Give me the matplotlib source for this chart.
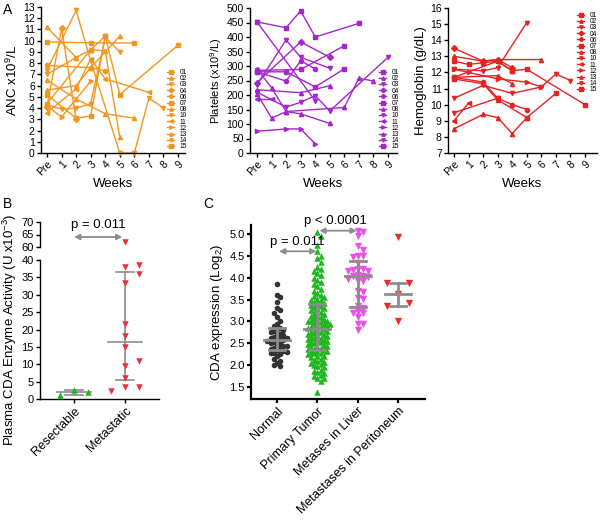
import numpy as np
import matplotlib
matplotlib.use("Agg")
import matplotlib.pyplot as plt

plt.rcParams['font.family'] = ['Liberation Sans', 'DejaVu Sans']
plt.rcParams['mathtext.default'] = 'regular'

# ---------------- data ----------------
PATIENTS = ['01', '02', '03', '04', '06', '07', '08', '10', '11', '12', '13', '14', '15']
WEEK_LABELS = ['Pre', '1', '2', '3', '4', '5', '6', '7', '8', '9']

# (weeks, values) per patient, week 0 = Pre
anc = {
    '01': ([0, 3, 6], [9.9, 9.8, 9.8]),
    '02': ([0, 2, 3, 4, 5], [11.2, 8.5, 9.2, 9.1, 1.4]),
    '03': ([0, 2, 3, 5, 6, 7, 8], [7.4, 12.7, 8.2, 0.0, 0.0, 4.9, 4.0]),
    '04': ([0, 1, 2], [4.1, 11.1, 3.0]),
    '06': ([0, 3, 4], [7.8, 7.6, 7.3]),
    '07': ([0, 2, 3, 4, 5, 9], [5.2, 3.1, 3.3, 10.4, 5.2, 9.6]),
    '08': ([0, 2, 4, 6], [6.5, 4.8, 3.5, 3.1]),
    '10': ([0, 1, 2, 3, 4, 5], [4.3, 3.9, 4.0, 4.4, 10.3, 9.0]),
    '11': ([0, 2, 3, 4, 7], [3.6, 5.7, 8.4, 6.6, 5.4]),
    '12': ([0, 1, 3], [4.2, 3.2, 6.4]),
    '13': ([0, 2, 3, 5], [5.6, 6.0, 7.6, 10.4]),
    '14': ([0, 2], [7.0, 8.5]),
    '15': ([0, 3, 4], [4.4, 9.2, 10.4]),
}

platelets = {
    '01': ([0, 2, 3, 4, 7], [452, 432, 490, 400, 447]),
    '02': ([0, 1, 2, 3, 5], [290, 225, 143, 135, 102]),
    '03': ([0, 2, 3, 5], [235, 390, 330, 292]),
    '04': ([0, 3, 5], [243, 383, 330]),
    '06': ([0, 2, 3, 4], [280, 248, 318, 290]),
    '07': ([0, 3, 6], [285, 288, 370]),
    '08': ([0, 3, 5], [218, 208, 232]),
    '10': ([0, 2, 3, 4, 5, 9], [210, 158, 175, 198, 145, 330]),
    '11': ([0, 1], [185, 185]),
    '12': ([0, 2, 3, 4], [75, 83, 83, 32]),
    '13': ([0, 1, 2, 6, 7, 8], [205, 120, 143, 157, 258, 248]),
    '14': ([0, 4], [452, 180]),
    '15': ([0, 2, 4, 6], [280, 280, 228, 290]),
}

hemoglobin = {
    '01': ([0, 1, 2, 3, 4, 5, 9], [12.7, 12.5, 12.6, 12.7, 12.1, 12.2, 10.0]),
    '02': ([0, 2, 3, 6], [13.0, 12.7, 12.8, 12.8]),
    '03': ([0, 2, 3, 5], [12.2, 12.1, 12.3, 15.1]),
    '04': ([0, 2, 3, 4], [13.5, 12.7, 12.8, 12.3]),
    '06': ([0, 2, 3, 4, 5], [11.7, 11.4, 10.4, 10.0, 9.7]),
    '07': ([0, 2, 3, 5, 7], [11.6, 11.3, 10.3, 9.2, 10.7]),
    '08': ([0, 3, 4], [11.7, 11.8, 11.3]),
    '10': ([0, 2, 4, 6, 7, 8], [10.4, 11.2, 10.7, 11.1, 11.9, 11.5]),
    '11': ([0, 1], [9.0, 10.1]),
    '12': ([0, 1, 3, 5, 6], [12.2, 12.0, 11.6, 11.4, 11.1]),
    '13': ([0, 2, 3, 4, 5], [8.5, 9.4, 9.2, 8.2, 9.2]),
    '14': ([0, 3], [9.5, 10.4]),
    '15': ([0, 3, 4], [11.7, 12.7, 12.1]),
}

# panel B
b_groups = ['Resectable', 'Metastatic']
resectable = [2.5, 2.0, 1.2]
metastatic = [62.0, 38.0, 36.0, 33.5, 21.5, 18.0, 15.0, 9.5, 6.0, 3.5, 38.6, 11.0, 3.5, 2.3]

# panel C
c_groups = ['Normal', 'Primary Tumor', 'Metases in Liver', 'Metastases in Peritoneum']
normal = [3.85, 3.6, 3.55, 3.45, 3.3, 3.25, 3.2, 3.1, 3.0, 2.95, 2.9, 2.85, 2.82, 2.8,
          2.78, 2.75, 2.72, 2.7, 2.68, 2.65, 2.63, 2.62, 2.6, 2.58, 2.57, 2.55, 2.52, 2.5,
          2.48, 2.47, 2.45, 2.43, 2.4, 2.38, 2.37, 2.35, 2.33, 2.3, 2.28, 2.27, 2.25, 2.2,
          2.15, 2.1, 2.05, 2.0, 1.98]
primary = [5.05, 4.95, 4.75, 4.6, 4.5, 4.45,
           4.35, 4.25, 4.2, 4.15, 4.1, 4.05, 4.0,
           3.95, 3.9, 3.85, 3.8, 3.75, 3.7, 3.65, 3.6, 3.58, 3.55, 3.52, 3.5,
           3.48, 3.45, 3.42, 3.4, 3.38, 3.35, 3.32, 3.3, 3.28, 3.25, 3.22, 3.2, 3.18, 3.15,
           3.12, 3.1, 3.08, 3.05, 3.03, 3.02, 3.0, 3.0,
           2.98, 2.97, 2.95, 2.93, 2.92, 2.9, 2.88, 2.87, 2.85, 2.84, 2.82, 2.8, 2.78, 2.77,
           2.75, 2.73, 2.72, 2.7, 2.68, 2.67, 2.65, 2.63, 2.62, 2.6, 2.58, 2.57, 2.55, 2.53,
           2.52, 2.5,
           2.48, 2.47, 2.45, 2.43, 2.42, 2.4, 2.38, 2.37, 2.35, 2.33, 2.32, 2.3, 2.28, 2.27,
           2.25, 2.22, 2.2, 2.18, 2.15, 2.12, 2.1, 2.08, 2.05, 2.02, 2.0,
           1.98, 1.95, 1.9, 1.88, 1.85, 1.82, 1.78, 1.75, 1.72, 1.7, 1.65, 1.4]
liver = [5.07, 5.05, 4.94, 4.73, 4.64, 4.5, 4.49, 4.48, 4.33, 4.2, 4.19, 4.18, 4.16, 4.15,
         4.05, 4.04, 4.03, 4.02, 3.97, 3.93, 3.92, 3.7, 3.68, 3.53, 3.52, 3.35, 3.3, 3.22,
         3.2, 3.19, 3.1, 2.95, 2.94, 2.8]
peritoneum = [4.92, 3.62, 3.87, 3.88, 3.43, 3.35, 3.02]

# ---------------- layout helpers ----------------
W, H = 602, 528
fig = plt.figure(figsize=(W / 100, H / 100), dpi=100)


def ax_px(l, t, r, b):
    return fig.add_axes([l / W, 1 - b / H, (r - l) / W, (b - t) / H])


def style(ax, lw=1.0, size=7.5):
    for s in ['top', 'right']:
        ax.spines[s].set_visible(False)
    for s in ['left', 'bottom']:
        ax.spines[s].set_linewidth(lw)
    ax.tick_params(direction='out', length=3, width=lw, labelsize=size, pad=1.5)


def columns(vals, ypx, step_px, dmin_px):
    """GraphPad-like column scatter: offsets in units of step, in data order."""
    placed = []
    offs = []
    order = [0, 1, -1, 2, -2, 3, -3, 4, -4, 5, -5, 6, -6, 7, -7]
    for v in vals:
        y = v * ypx
        for k in order:
            if all(not (kk == k and abs(yy - y) < dmin_px) for kk, yy in placed):
                break
        placed.append((k, y))
        offs.append(k * step_px)
    return np.array(offs)


# ---------------- panel A ----------------
markers = ['s', '^', 'v', 'D', 'o', 's', '^', 'v', '<', '>', '^', 'v', 's']
a_panels = [
    (anc, '#F4961E', (0, 13), np.arange(0, 14, 1), 'ANC x10$^9$/L', 9.5,
     (41, 7, 185, 153), (47, 178), (167, 69)),
    (platelets, '#A526CC', (0, 500), np.arange(0, 501, 50), 'Platelets (x10$^9$/L)', 8,
     (250, 8, 397, 153), (257, 388), (379, 69)),
    (hemoglobin, '#E62222', (7, 16), np.arange(7, 17, 1), 'Hemoglobin (g/dL)', 9.5,
     (448, 8, 597, 153), (454, 585), (577, 12)),
]

for data, color, ylim, yticks, ylabel, ysize, box, xref, leg in a_panels:
    ax = ax_px(*box)
    style(ax)
    handles = []
    for p, m in zip(PATIENTS, markers):
        wk, vals = data[p]
        ln, = ax.plot(wk, vals, color=color, lw=1.0, marker=m, ms=3, clip_on=False)
        handles.append(ln)
    s = (xref[1] - xref[0]) / 9
    ax.set_xlim((box[0] - xref[0]) / s, (box[2] - xref[0]) / s)
    ax.set_ylim(*ylim)
    ax.set_yticks(yticks)
    ax.set_xticks(range(10))
    ax.set_xticklabels(WEEK_LABELS, rotation=45, ha='right', rotation_mode='anchor')
    ax.set_xlabel('Weeks', fontsize=9.5, labelpad=0)
    ax.set_ylabel(ylabel, fontsize=ysize, labelpad=2)
    ax.legend(handles, PATIENTS, loc='upper left',
              bbox_to_anchor=(leg[0] / W, 1 - leg[1] / H), bbox_transform=fig.transFigure,
              frameon=False, fontsize=4.8, handlelength=1.1, labelspacing=-0.12,
              handletextpad=0.8, borderpad=0, borderaxespad=0, markerscale=0.8)

# ---------------- panel B ----------------
grey = '#8C8C8C'
b_lo = ax_px(40, 260, 159, 399)
b_hi = ax_px(40, 222, 159, 247)
for a in (b_lo, b_hi):
    style(a, lw=1.0, size=8)
    a.set_xlim(-0.67, 1.67)
b_hi.spines['bottom'].set_visible(False)
b_hi.tick_params(axis='x', bottom=False, labelbottom=False)
b_lo.set_ylim(0, 40)
b_lo.set_yticks(np.arange(0, 41, 5))
b_hi.set_ylim(60, 70)
b_hi.set_yticks([60, 65, 70])
b_lo.set_xticks([0, 1])
b_lo.set_xticklabels(b_groups, rotation=45, ha='right', rotation_mode='anchor', fontsize=9)

b_step = 0.27
for i, (vals, col, mk) in enumerate([(resectable, '#22B422', '^'), (metastatic, '#E8323C', 'v')]):
    vals = np.array(vals)
    offs = columns(vals, 3.475, 1, 7) * b_step
    lo = vals < 50
    b_lo.scatter(i + offs[lo], vals[lo], marker=mk, s=22, color=col, lw=0, zorder=4, clip_on=False)
    b_hi.scatter(i + offs[~lo], vals[~lo], marker=mk, s=22, color=col, lw=0, zorder=4, clip_on=False)
    q1, med, q3 = np.percentile(vals, [25, 50, 75], method='weibull')
    b_lo.plot([i, i], [q1, q3], color=grey, lw=1.2, zorder=2)
    b_lo.plot([i - 0.34, i + 0.34], [med, med], color=grey, lw=1.2, zorder=2)
    for q in (q1, q3):
        b_lo.plot([i - 0.17, i + 0.17], [q, q], color=grey, lw=1.2, zorder=2)

b_hi.annotate('', xy=(0.0, 64), xytext=(0.95, 64),
              arrowprops=dict(arrowstyle='<|-|>', color=grey, lw=1.3, mutation_scale=8,
                              shrinkA=0, shrinkB=0), annotation_clip=False)
b_hi.text(0.47, 68.8, 'p = 0.011', ha='center', va='center', fontsize=9.5)
fig.text(10 / W, 1 - 330 / H, 'Plasma CDA Enzyme Activity (U x10$^{-3}$)', rotation=90,
         ha='center', va='center', fontsize=9.5)

# ---------------- panel C ----------------
c_ax = ax_px(251, 225, 425, 399)
style(c_ax, lw=1.6, size=8)
c_ax.set_xlim(-0.645, 3.67)
c_ax.set_ylim(1.23, 5.2)
c_ax.set_yticks(np.arange(1.5, 5.01, 0.5))
c_ax.yaxis.set_major_formatter(matplotlib.ticker.FormatStrFormatter('%.1f'))
c_ax.set_xticks(range(4))
c_ax.set_xticklabels(c_groups, rotation=45, ha='right', rotation_mode='anchor', fontsize=9)
c_ax.set_ylabel('CDA expression (Log$_2$)', fontsize=9.5, labelpad=3)

c_specs = [
    (normal, '#333333', 'o', 16, 3.2, 4.5),
    (primary, '#1DB81D', '^', 22, 3.2, 4.5),
    (liver, '#EE4FE8', 'v', 28, 5, 4),
    (peritoneum, '#EE2B2B', 'v', 28, 11, 12),
]
xpx = 40.3
for i, (vals, col, mk, sz, step, dmin) in enumerate(c_specs):
    vals = np.array(vals)
    offs = columns(vals, 44, step, dmin) / xpx
    c_ax.scatter(i + offs, vals, marker=mk, s=sz, color=col, lw=0, zorder=3, clip_on=False)
    q1, med, q3 = np.percentile(vals, [25, 50, 75], method='weibull')
    c_ax.plot([i, i], [q1, q3], color=grey, lw=2, zorder=4)
    c_ax.plot([i - 0.32, i + 0.32], [med, med], color=grey, lw=2, zorder=4)
    for q in (q1, q3):
        c_ax.plot([i - 0.2, i + 0.2], [q, q], color=grey, lw=2, zorder=4)

c_ax.annotate('', xy=(0.05, 4.6), xytext=(0.98, 4.6),
              arrowprops=dict(arrowstyle='<|-|>', color=grey, lw=1.3, mutation_scale=8,
                              shrinkA=0, shrinkB=0), annotation_clip=False)
c_ax.text(0.5, 4.68, 'p = 0.011', ha='center', va='bottom', fontsize=9.5)
c_ax.annotate('', xy=(1.05, 5.07), xytext=(1.98, 5.07),
              arrowprops=dict(arrowstyle='<|-|>', color=grey, lw=1.3, mutation_scale=8,
                              shrinkA=0, shrinkB=0), annotation_clip=False)
c_ax.text(1.45, 5.16, 'p < 0.0001', ha='center', va='bottom', fontsize=9.5)

# panel letters
fig.text(3 / W, 1 - 3 / H, 'A', fontsize=10, va='top')
fig.text(3 / W, 1 - 197 / H, 'B', fontsize=10, va='top')
fig.text(203 / W, 1 - 197 / H, 'C', fontsize=10, va='top')

fig.savefig('out.png', dpi=100)
